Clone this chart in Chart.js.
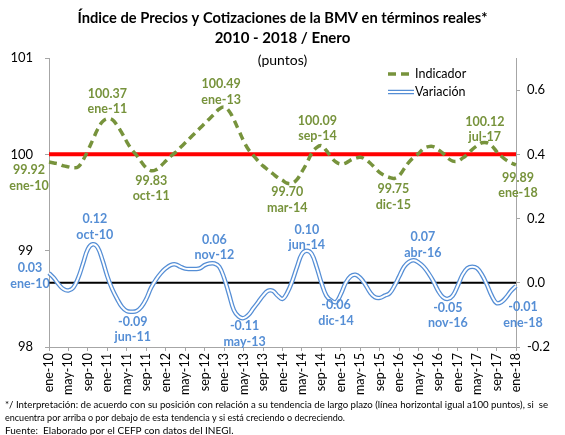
<!DOCTYPE html>
<html>
<head>
<meta charset="utf-8">
<script src="https://cdn.jsdelivr.net/npm/chart.js@4.4.1/dist/chart.umd.min.js"></script>
<style>
    html, body { margin: 0; padding: 0; background: #fff; }
    #wrap { width: 565px; height: 435px; position: relative; }
</style>
</head>
<body>
<div id="wrap"><canvas id="bmvChart"></canvas></div>
<script>
/*
|--------------------------------------------------------------------------
| Data
|--------------------------------------------------------------------------
*/

const MONTHS = ["ene", "feb", "mar", "abr", "may", "jun", "jul", "ago", "sep", "oct", "nov", "dic"];
const YEARS = ["10", "11", "12", "13", "14", "15", "16", "17", "18"];

// ene-10 ... ene-18
const categories = [];
YEARS.forEach((yy) => MONTHS.forEach((mm) => categories.push(mm + "-" + yy)));
categories.length = 97;

const indicador = [
    99.92, 99.91, 99.90, 99.88, 99.87, 99.86, 99.87, 99.94, 100.04, 100.15,
    100.26, 100.34, 100.37, 100.36, 100.30, 100.22, 100.13, 100.05, 99.99, 99.92,
    99.86, 99.83, 99.84, 99.88, 99.93, 99.98, 100.02, 100.07, 100.12, 100.17,
    100.22, 100.27, 100.32, 100.37, 100.42, 100.47, 100.49, 100.45, 100.36, 100.25,
    100.14, 100.05, 99.99, 99.93, 99.88, 99.84, 99.80, 99.76, 99.73, 99.70,
    99.70, 99.74, 99.82, 99.91, 100.01, 100.07, 100.09, 100.04, 99.97, 99.92,
    99.90, 99.91, 99.94, 99.96, 99.97, 99.95, 99.91, 99.86, 99.81, 99.78,
    99.76, 99.75, 99.78, 99.85, 99.92, 99.97, 100.01, 100.06, 100.08, 100.08,
    100.05, 100.01, 99.96, 99.93, 99.93, 99.96, 100.00, 100.05, 100.09, 100.12,
    100.12, 100.09, 100.03, 99.98, 99.94, 99.91, 99.89,
];

const variacion = [
    0.03, 0.015, -0.005, -0.02, -0.024, -0.015, 0.015, 0.06, 0.105, 0.12,
    0.11, 0.07, 0.02, -0.02, -0.05, -0.075, -0.088, -0.09, -0.088, -0.075,
    -0.05, -0.015, 0.01, 0.03, 0.045, 0.055, 0.057, 0.05, 0.044, 0.043,
    0.043, 0.045, 0.055, 0.06, 0.06, 0.05, 0.015, -0.035, -0.085, -0.105,
    -0.11, -0.10, -0.08, -0.06, -0.04, -0.025, -0.025, -0.04, -0.05, -0.03,
    0.005, 0.05, 0.09, 0.10, 0.09, 0.05, 0.0, -0.04, -0.055, -0.06,
    -0.035, 0.0, 0.02, 0.025, 0.015, -0.005, -0.03, -0.045, -0.047, -0.04,
    -0.033, -0.01, 0.02, 0.05, 0.065, 0.07, 0.063, 0.05, 0.03, 0.005,
    -0.025, -0.045, -0.05, -0.04, -0.01, 0.025, 0.045, 0.05, 0.045, 0.025,
    -0.005, -0.04, -0.063, -0.06, -0.045, -0.025, -0.01,
];

const leftTicks = [98, 99, 100, 101];
const rightTicks = [-0.2, 0.0, 0.2, 0.4, 0.6];
const trendLevel = 100;   // largo plazo
const zeroLevel = 0;

// highlighted points: [index, dx, dy]
const indLabels = [[0, -20, 8], [12, 0, -25], [21, 0, 10], [36, -3, -23], [50, -5, 9], [56, -4, -25], [71, -1, 11], [90, -2, -21], [96, 2, 13]];
const varLabels = [[0, -19, -5], [9, 2, -25], [17, 1, 10], [34, 0, -24], [40, 1, 8], [53, 0, -21], [59, 0, 3], [75, 9, -23], [82, 0, 9], [96, 7, 21]];

const GREEN = "#77933c";
const BLUE = "#558ed5";
const AXIS = "#a6a6a6";
const FONT = "Lato, 'Open Sans', sans-serif";

/*
|--------------------------------------------------------------------------
| Decorations
|--------------------------------------------------------------------------
*/

const decor = {
    id: "decor",

    beforeDatasetsDraw(chart) {
        const { ctx, chartArea, scales } = chart;
        ctx.save();

        let y = scales.y.getPixelForValue(trendLevel);
        ctx.strokeStyle = "#ff0000";
        ctx.lineWidth = 4;
        ctx.beginPath();
        ctx.moveTo(chartArea.left, y);
        ctx.lineTo(chartArea.right, y);
        ctx.stroke();

        y = scales.y1.getPixelForValue(zeroLevel);
        ctx.strokeStyle = "#000";
        ctx.lineWidth = 2;
        ctx.beginPath();
        ctx.moveTo(chartArea.left, y);
        ctx.lineTo(chartArea.right, y);
        ctx.stroke();

        ctx.restore();
    },

    afterDraw(chart) {
        const { ctx, scales } = chart;
        ctx.save();
        ctx.textAlign = "center";
        ctx.textBaseline = "middle";

        // title
        ctx.fillStyle = "#000";
        ctx.font = "bold 15px " + FONT;
        ctx.fillText("Índice de Precios y Cotizaciones de la BMV en términos reales*", 282.5, 18, 410);
        ctx.fillText("2010 - 2018 / Enero", 282.5, 38);
        ctx.font = "14px " + FONT;
        ctx.fillText("(puntos)", 282.5, 60);

        // legend
        ctx.lineWidth = 3.5;
        ctx.strokeStyle = GREEN;
        ctx.setLineDash([8, 5]);
        ctx.beginPath();
        ctx.moveTo(388, 74);
        ctx.lineTo(413, 74);
        ctx.stroke();
        ctx.setLineDash([]);
        ctx.strokeStyle = BLUE;
        ctx.lineWidth = 4.5;
        ctx.beginPath();
        ctx.moveTo(388, 92);
        ctx.lineTo(414, 92);
        ctx.stroke();
        ctx.strokeStyle = "#fff";
        ctx.lineWidth = 2;
        ctx.stroke();
        ctx.textAlign = "left";
        ctx.fillStyle = "#000";
        ctx.font = "12.5px " + FONT;
        ctx.fillText("Indicador", 415, 74);
        ctx.fillText("Variación", 415, 92);

        // point labels
        ctx.textAlign = "center";
        ctx.font = "bold 12.5px " + FONT;
        const put = (list, data, scale, color, fmt) => {
            ctx.fillStyle = color;
            list.forEach(([i, dx, dy]) => {
                const x = scales.x.getPixelForValue(i) + dx;
                const y = scale.getPixelForValue(data[i]) + dy;
                ctx.fillText(fmt(data[i]), x, y);
                ctx.fillText(categories[i], x, y + 15.5);
            });
        };
        put(indLabels, indicador, scales.y, GREEN, (v) => v.toFixed(2));
        put(varLabels, variacion, scales.y1, BLUE, (v) => v.toFixed(2));

        // notes
        ctx.textAlign = "left";
        ctx.fillStyle = "#000";
        ctx.font = "10px " + FONT;
        ctx.fillText("*/ Interpretación: de acuerdo con su posición con relación a su tendencia de largo plazo (línea horizontal igual a100 puntos), si  se", 5, 405, 543);
        ctx.fillText("encuentra por arriba o por debajo de esta tendencia y si está creciendo o decreciendo.", 5, 418, 340);
        ctx.fillText("Fuente:  Elaborado por el CEFP con datos del INEGI.", 5, 431);

        ctx.restore();
    },
};

/*
|--------------------------------------------------------------------------
| Chart
|--------------------------------------------------------------------------
*/

const tickFont = { family: FONT, size: 13 };

new Chart(document.getElementById("bmvChart"), {
    type: "line",

    data: {
        labels: categories,

        datasets: [
            {
                label: "Indicador",
                data: indicador,
                yAxisID: "y",
                borderColor: GREEN,
                borderWidth: 3.5,
                borderDash: [8, 5],
                pointRadius: 0,
                tension: 0.4,
                order: 2,
            },
            {
                label: "Variación",
                data: variacion,
                yAxisID: "y1",
                borderColor: BLUE,
                borderWidth: 4.5,
                pointRadius: 0,
                tension: 0.4,
                order: 1,
            },
            {
                label: "Variación (centro)",
                data: variacion,
                yAxisID: "y1",
                borderColor: "#fff",
                borderWidth: 2,
                pointRadius: 0,
                tension: 0.4,
                order: 0,
            },
        ],
    },

    options: {
        responsive: true,
        maintainAspectRatio: false,
        animation: false,
        events: [],

        layout: {
            padding: { top: 58, left: 0, right: 0, bottom: 0 },
        },

        plugins: {
            legend: { display: false },
            tooltip: { enabled: false },
        },

        scales: {
            x: {
                type: "category",
                offset: false,
                border: { color: AXIS, width: 1 },
                grid: { drawOnChartArea: false, tickLength: 4, color: AXIS },
                ticks: {
                    autoSkip: false,
                    maxRotation: 90,
                    minRotation: 90,
                    padding: 2,
                    color: "#000",
                    font: { family: FONT, size: 12.5 },
                    callback: (v, i) => (i % 4 === 0 ? categories[i] : null),
                },
                afterFit: (s) => { s.height = 88; },
            },

            y: {
                position: "left",
                min: leftTicks[0],
                max: leftTicks[leftTicks.length - 1],
                border: { color: AXIS, width: 1 },
                grid: { drawOnChartArea: false, tickLength: 4, color: AXIS },
                ticks: { stepSize: 1, padding: 12, color: "#000", font: tickFont },
                afterFit: (s) => { s.width = 49; },
            },

            y1: {
                position: "right",
                min: rightTicks[0],
                max: 0.7,
                border: { color: AXIS, width: 1 },
                grid: { drawOnChartArea: false, tickLength: 4, color: AXIS },
                ticks: {
                    stepSize: 0.2,
                    padding: 7,
                    color: "#000",
                    font: tickFont,
                    callback: (v) => (v > rightTicks[rightTicks.length - 1] + 0.05 ? null : (Math.abs(v) < 1e-9 ? "0.0" : v.toFixed(1))),
                },
                afterFit: (s) => { s.width = 49; },
            },
        },
    },

    plugins: [decor],
});
</script>
</body>
</html>
